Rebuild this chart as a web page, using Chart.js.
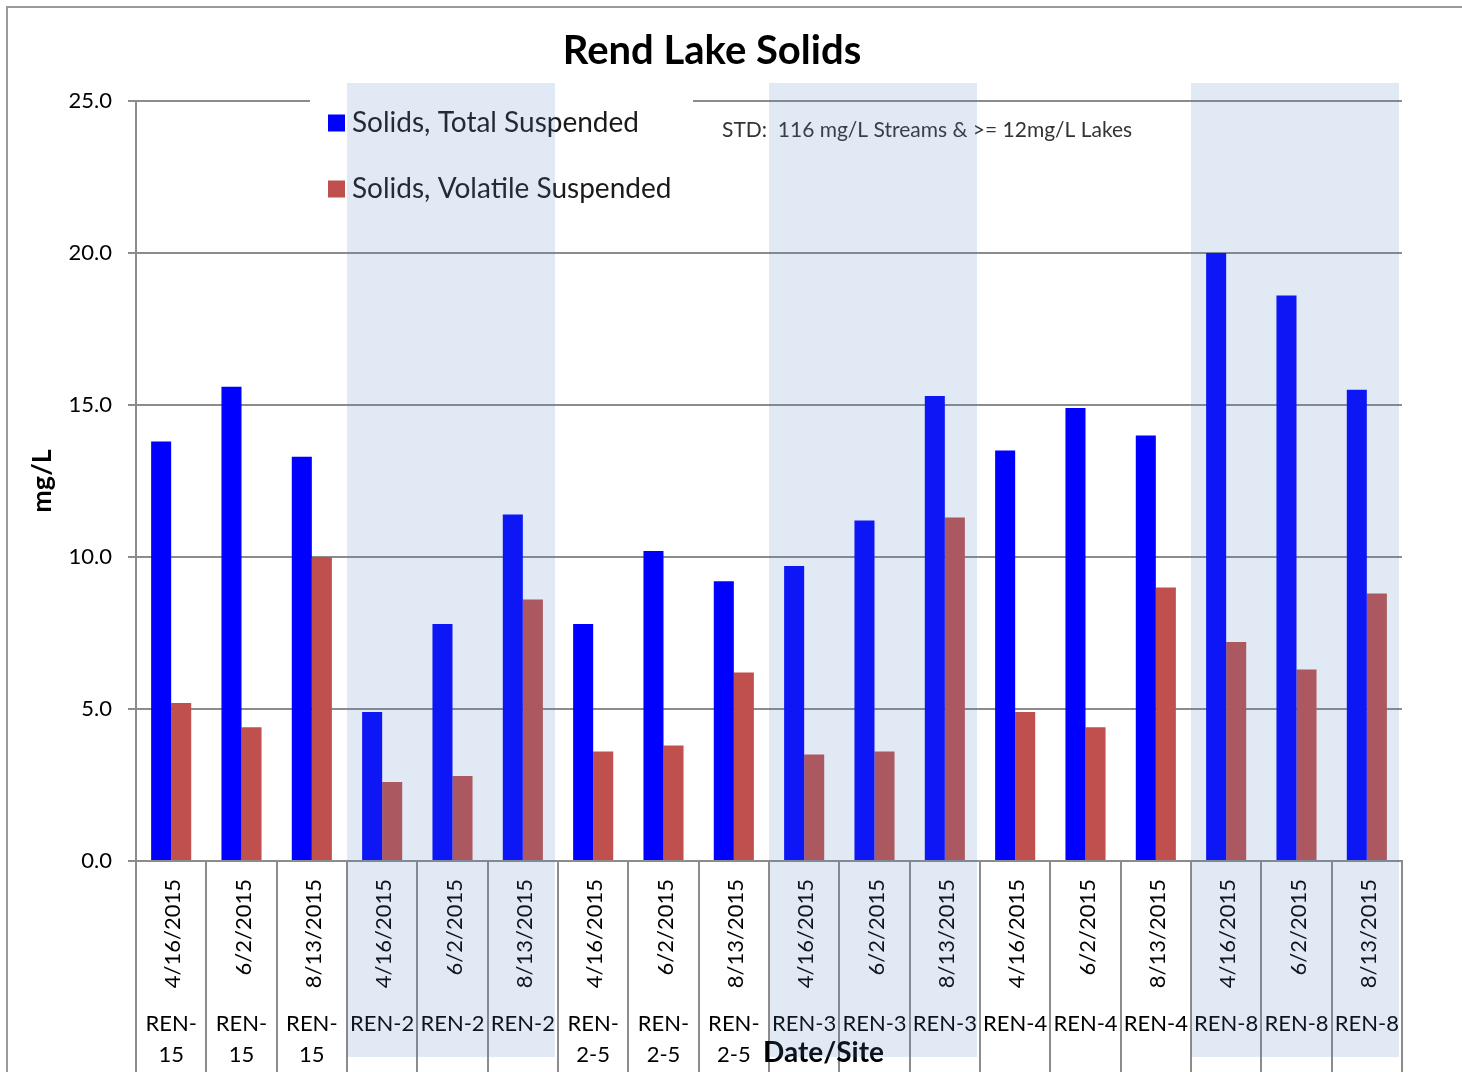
<!DOCTYPE html>
<html>
<head>
<meta charset="utf-8">
<script src="https://cdn.jsdelivr.net/npm/chart.js@4"></script>
<style>
  html, body { margin: 0; padding: 0; background: #fff; }
  #wrap { width: 1462px; height: 1072px; }
</style>
</head>
<body>
<div id="wrap"><canvas id="chart"></canvas></div>
<script>
const dates = ['4/16/2015', '6/2/2015', '8/13/2015', '4/16/2015', '6/2/2015', '8/13/2015',
  '4/16/2015', '6/2/2015', '8/13/2015', '4/16/2015', '6/2/2015', '8/13/2015',
  '4/16/2015', '6/2/2015', '8/13/2015', '4/16/2015', '6/2/2015', '8/13/2015'];
const sites = ['REN-15', 'REN-15', 'REN-15', 'REN-2', 'REN-2', 'REN-2',
  'REN-2-5', 'REN-2-5', 'REN-2-5', 'REN-3', 'REN-3', 'REN-3',
  'REN-4', 'REN-4', 'REN-4', 'REN-8', 'REN-8', 'REN-8'];
const totalSuspended = [13.8, 15.6, 13.3, 4.9, 7.8, 11.4, 7.8, 10.2, 9.2, 9.7, 11.2, 15.3, 13.5, 14.9, 14.0, 20.0, 18.6, 15.5];
const volatileSuspended = [5.2, 4.4, 10.0, 2.6, 2.8, 8.6, 3.6, 3.8, 6.2, 3.5, 3.6, 11.3, 4.9, 4.4, 9.0, 7.2, 6.3, 8.8];
const yTicks = [0, 5, 10, 15, 20, 25];
const shadedSites = ['REN-2', 'REN-3', 'REN-8'];

const FONT = 'Lato, "Open Sans", sans-serif';
const GRID = '#8c8c8c';

// split "REN-15" into "REN-" / "15" when it does not fit the cell
function siteLines(ctx, s, w) {
  if (ctx.measureText(s).width <= w) return [s];
  const k = s.indexOf('-');
  return [s.slice(0, k + 1), s.slice(k + 1)];
}

const decor = {
  id: 'decor',
  afterDraw(chart) {
    const ctx = chart.ctx;
    const x = chart.scales.x;
    const step = x.getPixelForValue(1) - x.getPixelForValue(0);
    ctx.save();

    // frame
    ctx.strokeStyle = '#9a9a9a';
    ctx.lineWidth = 2;
    ctx.strokeRect(7, 7, 3000, 3000);

    // title
    ctx.fillStyle = '#000';
    ctx.textAlign = 'center';
    ctx.textBaseline = 'middle';
    ctx.font = 'bold 40px ' + FONT;
    ctx.fillText('Rend Lake Solids', 712, 51);

    // y title
    ctx.save();
    ctx.translate(42, 481);
    ctx.rotate(-Math.PI / 2);
    ctx.font = 'bold 27px ' + FONT;
    ctx.fillText('mg/L', 0, 0);
    ctx.restore();

    // legend box
    ctx.fillStyle = '#fff';
    ctx.fillRect(310, 92, 383, 120);
    const ds = chart.data.datasets;
    const rows = [123, 189];
    ctx.textAlign = 'left';
    ctx.font = '28px ' + FONT;
    ds.forEach((d, i) => {
      ctx.fillStyle = d.backgroundColor;
      ctx.fillRect(328, rows[i] - 8.5, 17, 17);
      ctx.fillStyle = '#1a1a1a';
      ctx.fillText(d.label, 352, rows[i]);
    });

    // standard note
    ctx.fillStyle = '#333';
    ctx.font = '21px ' + FONT;
    ctx.fillText('STD:  116 mg/L Streams & >= 12mg/L Lakes', 722, 130);

    // x labels
    ctx.fillStyle = '#000';
    dates.forEach((d, i) => {
      const cx = x.getPixelForValue(i);
      ctx.save();
      ctx.translate(cx + 2, 879);
      ctx.rotate(-Math.PI / 2);
      ctx.textAlign = 'right';
      ctx.textBaseline = 'middle';
      ctx.font = '22px ' + FONT;
      ctx.fillText(d, 0, 0);
      ctx.restore();

      ctx.textAlign = 'center';
      ctx.textBaseline = 'middle';
      ctx.font = '22px ' + FONT;
      siteLines(ctx, sites[i], step - 4).forEach((t, k) => {
        ctx.fillText(t, cx, 1024 + k * 31);
      });
    });

    // x title
    ctx.font = 'bold 28px ' + FONT;
    ctx.textAlign = 'left';
    ctx.fillText('Date/Site', 763, 1053);

    // shaded site bands, drawn over everything
    ctx.fillStyle = 'rgba(79,129,189,0.17)';
    shadedSites.forEach(s => {
      const a = sites.indexOf(s);
      const b = sites.lastIndexOf(s);
      const left = x.getPixelForValue(a) - step / 2;
      const right = x.getPixelForValue(b) + step / 2;
      ctx.fillRect(left, 83, right - left - 3, 1057 - 83);
    });

    ctx.restore();
  }
};

new Chart(document.getElementById('chart'), {
  type: 'bar',
  data: {
    labels: dates.map((d, i) => d + ' ' + sites[i]),
    datasets: [
      { label: 'Solids, Total Suspended', data: totalSuspended, backgroundColor: '#0000FF' },
      { label: 'Solids, Volatile Suspended', data: volatileSuspended, backgroundColor: '#C0504D' }
    ]
  },
  options: {
    responsive: true,
    maintainAspectRatio: false,
    animation: false,
    layout: { padding: { left: 0, right: 60, top: 101, bottom: 0 } },
    datasets: { bar: { categoryPercentage: 0.57, barPercentage: 1.0 } },
    plugins: {
      legend: { display: false },
      title: { display: false },
      tooltip: { enabled: false }
    },
    scales: {
      x: {
        afterFit(scale) { scale.height = 211; },
        grid: { offset: true, drawOnChartArea: false, color: GRID, lineWidth: 2, tickLength: 211 },
        border: { color: GRID, width: 2 },
        ticks: { display: false }
      },
      y: {
        min: 0,
        max: 25,
        afterFit(scale) { scale.width = 136; },
        afterBuildTicks(scale) { scale.ticks = yTicks.map(v => ({ value: v })); },
        grid: { color: GRID, lineWidth: 2, tickLength: 8 },
        border: { color: GRID, width: 2 },
        ticks: {
          padding: 16,
          color: '#000',
          font: { family: FONT, size: 22 },
          callback: v => v.toFixed(1)
        }
      }
    }
  },
  plugins: [decor]
});
</script>
</body>
</html>
